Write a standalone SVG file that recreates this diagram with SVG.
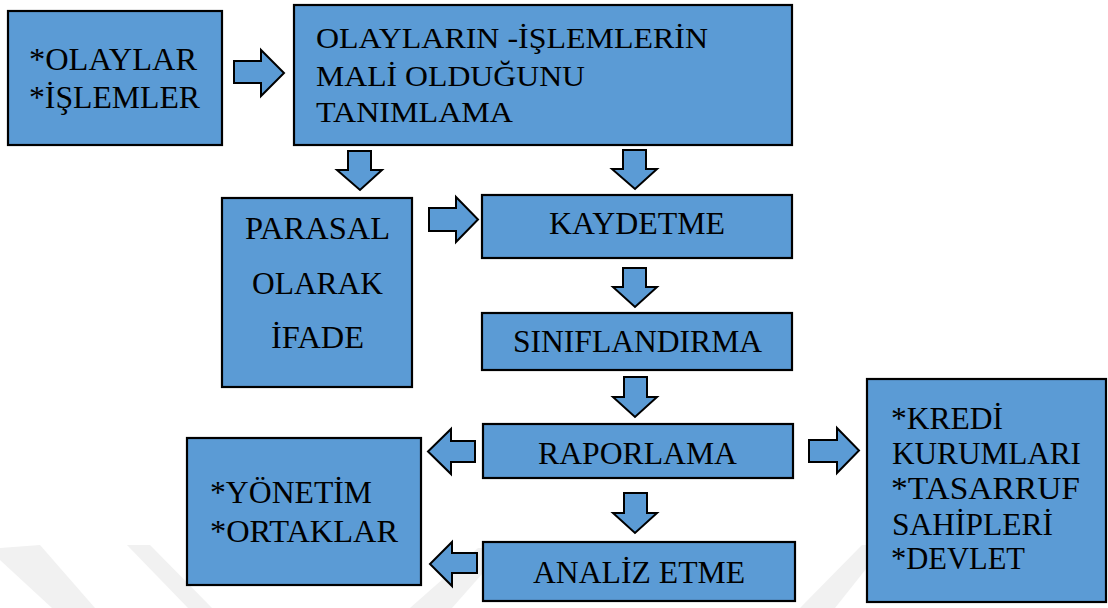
<svg xmlns="http://www.w3.org/2000/svg" width="1108" height="608" viewBox="0 0 1108 608">
<style>
.box{fill:#5B9BD5;stroke:#000;stroke-width:2.2}
.arr{fill:#5B9BD5;stroke:#000;stroke-width:2;stroke-linejoin:miter}
.t{font-family:"Liberation Serif","Times New Roman",serif;font-size:31px;fill:#000}
.t2{font-family:"Liberation Serif","Times New Roman",serif;font-size:29.5px;fill:#000}
.wm{fill:#f1f1f1}
</style>
<rect x="0" y="0" width="1108" height="608" fill="#fff"/>
<g id="watermark">
<polygon class="wm" points="0,548 40,545 95,608 52,608 0,560"/>
<polygon class="wm" points="127,545 150,545 212,608 188,608"/>
<polygon class="wm" points="410,608 452,608 505,548 478,548"/>
<polygon class="wm" points="800,608 835,608 885,545 862,545"/>
</g>
<g id="connectors">
<polygon class="arr" points="234,61 261,61 261,50 284,73 261,96 261,83 234,83"/>
<polygon class="arr" points="429,208 456,208 456,197 478,219.5 456,242 456,231 429,231"/>
<polygon class="arr" points="348,151 371,151 371,170 382,170 360,190 337,170 348,170"/>
<polygon class="arr" points="623,150 646,150 646,169 657,169 635,189 612,169 623,169"/>
<polygon class="arr" points="623,268 646,268 646,287 657,287 635,307 613,287 623,287"/>
<polygon class="arr" points="624,377 647,377 647,397 657,397 635,417 613,397 624,397"/>
<polygon class="arr" points="624,493 647,493 647,513 657,513 635,533 613,513 624,513"/>
<polygon class="arr" points="475,441 451,441 451,429 428,451.5 451,474 451,462 475,462"/>
<polygon class="arr" points="477,553 452,553 452,542 430,564 452,586 452,573 477,573"/>
<polygon class="arr" points="809,440 837,440 837,428 859,450.5 837,473 837,462 809,462"/>
</g>
<g id="n-olaylar">
<rect class="box" x="8" y="11" width="214" height="134"/>
<text class="t" x="29" y="70" textLength="168" lengthAdjust="spacingAndGlyphs">*OLAYLAR</text>
<text class="t" x="29" y="108" textLength="171" lengthAdjust="spacingAndGlyphs">*İŞLEMLER</text>
</g>
<g id="n-tanimlama">
<rect class="box" x="294" y="5" width="498" height="140"/>
<text class="t2" x="316" y="48" textLength="392" lengthAdjust="spacingAndGlyphs">OLAYLARIN -İŞLEMLERİN</text>
<text class="t2" x="316" y="86" textLength="269" lengthAdjust="spacingAndGlyphs">MALİ OLDUĞUNU</text>
<text class="t2" x="316" y="122" textLength="197" lengthAdjust="spacingAndGlyphs">TANIMLAMA</text>
</g>
<g id="n-parasal">
<rect class="box" x="222" y="198" width="190" height="189"/>
<text class="t" x="245" y="239" textLength="145" lengthAdjust="spacingAndGlyphs">PARASAL</text>
<text class="t" x="252" y="294" textLength="131" lengthAdjust="spacingAndGlyphs">OLARAK</text>
<text class="t" x="271" y="348" textLength="93" lengthAdjust="spacingAndGlyphs">İFADE</text>
</g>
<g id="n-kaydetme">
<rect class="box" x="482" y="195" width="310" height="63"/>
<text class="t" x="549" y="234" textLength="176" lengthAdjust="spacingAndGlyphs">KAYDETME</text>
</g>
<g id="n-siniflandirma">
<rect class="box" x="482" y="313" width="310" height="57"/>
<text class="t" x="513" y="352" textLength="249" lengthAdjust="spacingAndGlyphs">SINIFLANDIRMA</text>
</g>
<g id="n-raporlama">
<rect class="box" x="483" y="424" width="310" height="54"/>
<text class="t" x="538" y="464" textLength="199" lengthAdjust="spacingAndGlyphs">RAPORLAMA</text>
</g>
<g id="n-analiz">
<rect class="box" x="483" y="542" width="312" height="59"/>
<text class="t" x="533" y="583" textLength="212" lengthAdjust="spacingAndGlyphs">ANALİZ ETME</text>
</g>
<g id="n-yonetim">
<rect class="box" x="187" y="438" width="234" height="147"/>
<text class="t" x="210" y="503" textLength="162" lengthAdjust="spacingAndGlyphs">*YÖNETİM</text>
<text class="t" x="210" y="542" textLength="188" lengthAdjust="spacingAndGlyphs">*ORTAKLAR</text>
</g>
<g id="n-kredi">
<rect class="box" x="867" y="379" width="239" height="223"/>
<text class="t" x="891" y="429" textLength="112" lengthAdjust="spacingAndGlyphs">*KREDİ</text>
<text class="t" x="892" y="464" textLength="189" lengthAdjust="spacingAndGlyphs">KURUMLARI</text>
<text class="t" x="891" y="499" textLength="189" lengthAdjust="spacingAndGlyphs">*TASARRUF</text>
<text class="t" x="892" y="535" textLength="161" lengthAdjust="spacingAndGlyphs">SAHİPLERİ</text>
<text class="t" x="891" y="569" textLength="134" lengthAdjust="spacingAndGlyphs">*DEVLET</text>
</g>
</svg>
